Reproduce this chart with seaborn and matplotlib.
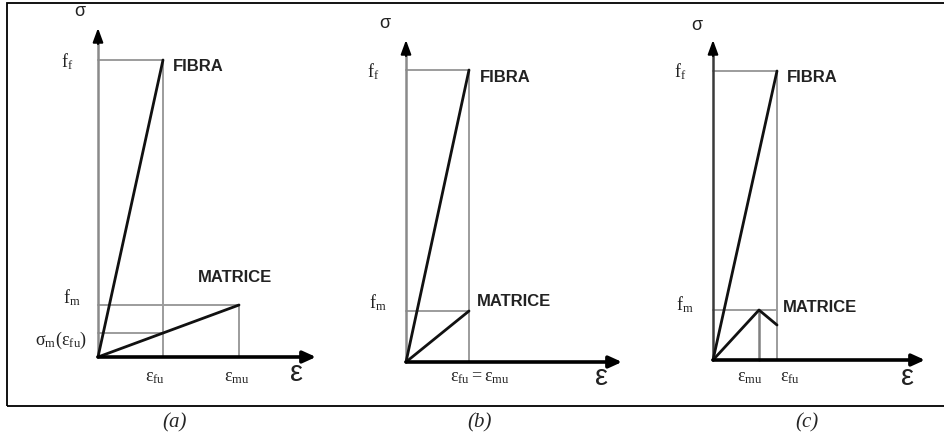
import matplotlib
matplotlib.use("Agg")
import matplotlib.pyplot as plt
from matplotlib.patches import Rectangle
import seaborn as sns
import pandas as pd

# ---------------- data (arbitrary units) ----------------
panels = ["(a)", "(b)", "(c)"]
# fibre: linear up to (eps_fu, f_f)
eps_fu = [0.65, 0.63, 0.64]
f_f = [2.97, 2.92, 2.89]
# matrix: peak (eps_mu, f_m); panel c softens to end_stress at eps_fu
eps_mu = [1.41, 0.63, 0.46]
f_m = [0.52, 0.51, 0.50]
matrix_end_stress_c = 0.35
sigma_m_at_eps_fu_a = 0.24
# axis extents
x_axis_len = [2.18, 2.16, 2.12]
y_axis_len = [3.29, 3.22, 3.20]

# ---------------- style ----------------
sns.set_theme(style="white")
plt.rcParams["font.family"] = ["Liberation Sans", "DejaVu Sans"]
plt.rcParams["mathtext.fontset"] = "custom"
plt.rcParams["mathtext.rm"] = "Liberation Serif"
plt.rcParams["mathtext.it"] = "Liberation Serif:italic"
plt.rcParams["mathtext.bf"] = "Liberation Serif:bold"

W, H, S = 944, 438, 100.0
origins = [(98, 357), (406, 362), (713, 360)]
GREY = "#9c9c9c"
BLACK = "#111111"

fig = plt.figure(figsize=(W / 100, H / 100), dpi=100)

lbl_kw = dict(fontsize=13, color="#222222")
name_kw = dict(fontsize=12, fontweight="bold", color="#222222", ha="left", va="center")


def make_ax(origin):
    ox, oy = origin
    ax = fig.add_axes([0, 0, 1, 1])
    ax.set_xlim(-ox / S, (W - ox) / S)
    ax.set_ylim(-(H - oy) / S, oy / S)
    ax.axis("off")
    ax.patch.set_alpha(0)
    return ax


def grey(ax, xs, ys, color=GREY, lw=1.4):
    d = pd.DataFrame({"x": xs, "y": ys})
    sns.lineplot(data=d, x="x", y="y", ax=ax, color=color, lw=lw,
                 sort=False, estimator=None, zorder=2)


def curve(ax, xs, ys):
    d = pd.DataFrame({"x": xs, "y": ys})
    sns.lineplot(data=d, x="x", y="y", ax=ax, color=BLACK, lw=2.0,
                 sort=False, estimator=None, zorder=4)


def axes_arrows(ax, xl, yl, ycolor):
    # y axis line + black head
    grey(ax, [0, 0], [0, yl - 0.10], color=ycolor, lw=1.8)
    ax.annotate("", xy=(0, yl), xytext=(0, yl - 0.16),
                arrowprops=dict(arrowstyle="-|>,head_length=0.6,head_width=0.22",
                                color="black", lw=1.5,
                                mutation_scale=14, shrinkA=0, shrinkB=0))
    # x axis
    ax.annotate("", xy=(xl, 0), xytext=(0, 0),
                arrowprops=dict(arrowstyle="-|>,head_length=0.55,head_width=0.25",
                                color="black", lw=2.6,
                                mutation_scale=14, shrinkA=0, shrinkB=0),
                zorder=5)


# ---------------- panel (a) ----------------
i = 0
ax = make_ax(origins[i])
grey(ax, [0, eps_fu[i], eps_fu[i]], [f_f[i], f_f[i], 0])
grey(ax, [0, eps_mu[i], eps_mu[i]], [f_m[i], f_m[i], 0])
grey(ax, [0, eps_fu[i]], [sigma_m_at_eps_fu_a, sigma_m_at_eps_fu_a])
curve(ax, [0, eps_fu[i]], [0, f_f[i]])
curve(ax, [0, eps_mu[i]], [0, f_m[i]])
axes_arrows(ax, x_axis_len[i], y_axis_len[i], "#8a8a8a")
ax.text(-0.18, 3.45, "σ", fontsize=13, ha="center", va="center", color="#222222")
ax.text(-0.31, f_f[i] - 0.02, r"$\mathrm{f_f}$", ha="center", va="center", **lbl_kw)
ax.text(-0.26, f_m[i] + 0.07, r"$\mathrm{f_m}$", ha="center", va="center", **lbl_kw)
ax.text(-0.11, sigma_m_at_eps_fu_a - 0.07, r"$\mathrm{σ_m(ε_{fu})}$", ha="right", va="center", **lbl_kw)
ax.text(0.75, f_f[i] - 0.07, "FIBRA", **name_kw)
ax.text(1.00, 0.80, "MATRICE", **name_kw)
ax.text(eps_fu[i] - 0.08, -0.21, r"$\mathrm{ε_{fu}}$", ha="center", va="center", **lbl_kw)
ax.text(eps_mu[i] - 0.02, -0.21, r"$\mathrm{ε_{mu}}$", ha="center", va="center", **lbl_kw)
ax.text(1.99, -0.16, "ε", fontsize=21, ha="center", va="center", color="#222222")

# ---------------- panel (b) ----------------
i = 1
ax = make_ax(origins[i])
grey(ax, [0, eps_fu[i], eps_fu[i]], [f_f[i], f_f[i], 0])
grey(ax, [0, eps_mu[i]], [f_m[i], f_m[i]])
curve(ax, [0, eps_fu[i]], [0, f_f[i]])
curve(ax, [0, eps_mu[i]], [0, f_m[i]])
axes_arrows(ax, x_axis_len[i], y_axis_len[i], "#8a8a8a")
ax.text(-0.21, 3.39, "σ", fontsize=13, ha="center", va="center", color="#222222")
ax.text(-0.33, f_f[i] - 0.02, r"$\mathrm{f_f}$", ha="center", va="center", **lbl_kw)
ax.text(-0.28, f_m[i] + 0.08, r"$\mathrm{f_m}$", ha="center", va="center", **lbl_kw)
ax.text(0.74, f_f[i] - 0.07, "FIBRA", **name_kw)
ax.text(0.71, f_m[i] + 0.09, "MATRICE", **name_kw)
ax.text(0.74, -0.16, r"$\mathrm{ε_{fu} = ε_{mu}}$", ha="center", va="center", **lbl_kw)
ax.text(1.96, -0.15, "ε", fontsize=21, ha="center", va="center", color="#222222")

# ---------------- panel (c) ----------------
i = 2
ax = make_ax(origins[i])
grey(ax, [0, eps_fu[i], eps_fu[i]], [f_f[i], f_f[i], 0])
grey(ax, [0, eps_fu[i]], [f_m[i], f_m[i]])
grey(ax, [eps_mu[i], eps_mu[i]], [f_m[i], 0], color="#808080", lw=1.8)
curve(ax, [0, eps_fu[i]], [0, f_f[i]])
curve(ax, [0, eps_mu[i], eps_fu[i]], [0, f_m[i], matrix_end_stress_c])
axes_arrows(ax, x_axis_len[i], y_axis_len[i], "#3a3a3a")
ax.text(-0.16, 3.35, "σ", fontsize=13, ha="center", va="center", color="#222222")
ax.text(-0.33, f_f[i] - 0.01, r"$\mathrm{f_f}$", ha="center", va="center", **lbl_kw)
ax.text(-0.28, f_m[i] + 0.05, r"$\mathrm{f_m}$", ha="center", va="center", **lbl_kw)
ax.text(0.74, f_f[i] - 0.07, "FIBRA", **name_kw)
ax.text(0.70, f_m[i] + 0.03, "MATRICE", **name_kw)
ax.text(eps_mu[i] - 0.09, -0.18, r"$\mathrm{ε_{mu}}$", ha="center", va="center", **lbl_kw)
ax.text(eps_fu[i] + 0.13, -0.18, r"$\mathrm{ε_{fu}}$", ha="center", va="center", **lbl_kw)
ax.text(1.94, -0.17, "ε", fontsize=21, ha="center", va="center", color="#222222")

# ---------------- frame and captions ----------------
fig.add_artist(Rectangle((7 / W, (H - 406) / H), 1.2, (406 - 3) / H,
                         transform=fig.transFigure, fill=False,
                         edgecolor="black", lw=1.3, clip_on=False))
cap_x = [175, 480, 807]
for name, cx in zip(panels, cap_x):
    fig.text(cx / W, 1 - 423 / H, name, fontsize=15, style="italic",
             family=["Liberation Serif", "DejaVu Serif"], ha="center", va="center")

fig.savefig("out.png", dpi=100)
